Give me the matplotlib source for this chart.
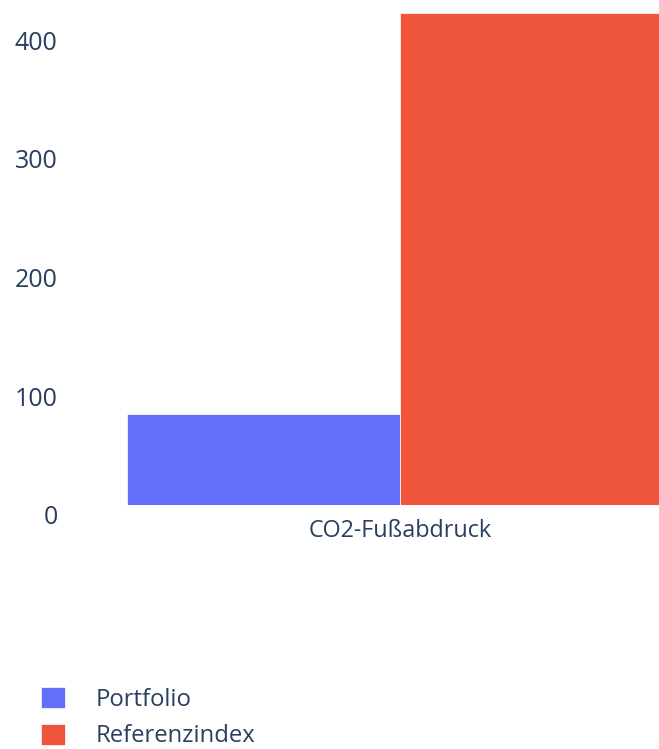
import matplotlib
matplotlib.use("Agg")
import matplotlib.pyplot as plt
import matplotlib.transforms as mtransforms
from matplotlib.patches import Patch

categories = ["CO2-Fußabdruck"]
series_names = ["Portfolio", "Referenzindex"]
portfolio_values = [76.6]
referenz_values = [414.6]
y_ticks = [0, 100, 200, 300, 400]
colors = ["#636efa", "#EF553B"]
text_color = "#2a3f5f"

plt.rcParams["font.family"] = ["Open Sans", "DejaVu Sans"]

W, H = 659, 749
fig = plt.figure(figsize=(W / 100, H / 100), dpi=100)
left_px, width_px = 59, 682
bottom_px, top_px = 505, 0
ax = fig.add_axes([left_px / W, (H - bottom_px) / H, width_px / W, (bottom_px - top_px) / H])

xs = list(range(len(categories)))
bw = 0.4
ax.bar([x - bw / 2 for x in xs], portfolio_values, width=bw, color=colors[0],
       edgecolor="white", linewidth=0.5, label=series_names[0])
ax.bar([x + bw / 2 for x in xs], referenz_values, width=bw, color=colors[1],
       edgecolor="white", linewidth=0.5, label=series_names[1])

ax.set_xlim(-0.5, len(categories) - 0.5)
ax.set_ylim(0, 425.3)
ax.set_yticks(y_ticks)
ax.set_yticklabels([str(t) for t in y_ticks])
ax.set_xticks(xs)
ax.set_xticklabels(categories)
for s in ax.spines.values():
    s.set_visible(False)
ax.tick_params(axis="both", length=0, colors=text_color)
ax.tick_params(axis="y", pad=1, labelsize=18)
ax.tick_params(axis="x", pad=10, labelsize=16.8)
ax.set_facecolor("white")

off = mtransforms.ScaledTranslation(0, -10 / 100, fig.dpi_scale_trans)
for lab in ax.get_yticklabels():
    lab.set_transform(lab.get_transform() + off)

handles = [Patch(facecolor=c, edgecolor="white", linewidth=0.5) for c in colors]
fig.legend(handles, series_names, loc="upper left",
           bbox_to_anchor=(36 / W, 1 - 682 / H), frameon=False,
           fontsize=17.2, labelcolor=text_color,
           handlelength=1.0, handleheight=1.0, handletextpad=1.3,
           labelspacing=0.5, borderaxespad=0, borderpad=0.2)

fig.savefig("out.png", dpi=100, facecolor="white")
